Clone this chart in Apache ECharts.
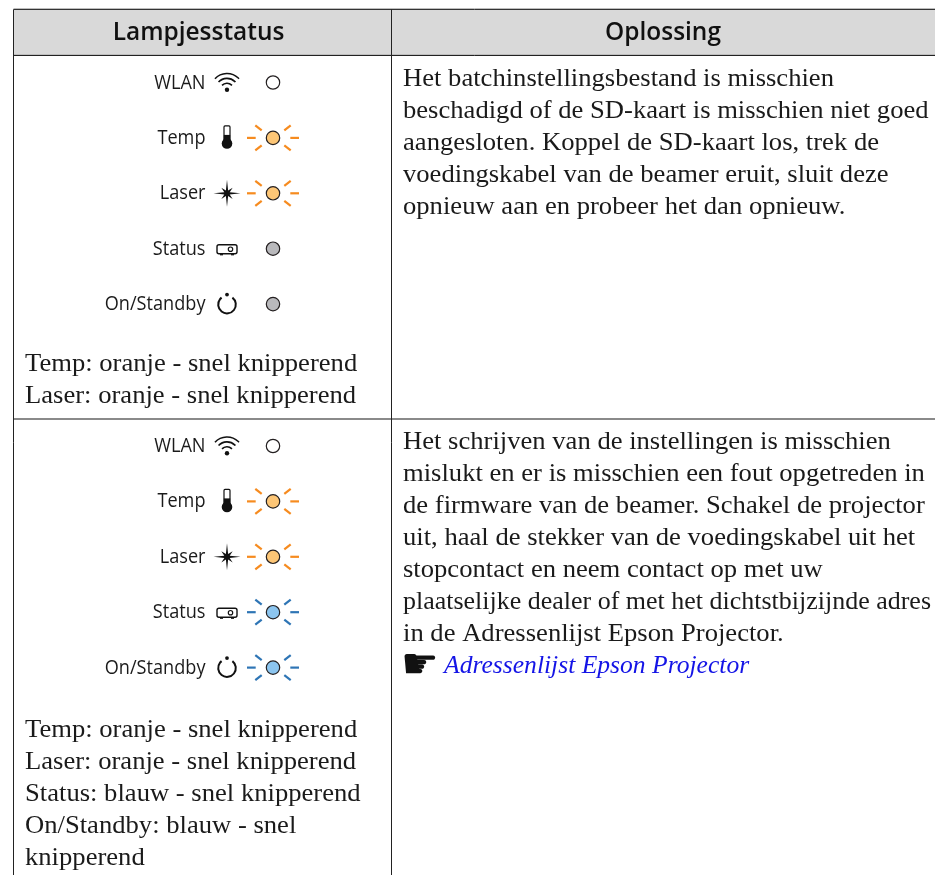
<!DOCTYPE html>
<html><head><meta charset="utf-8">
<style>html,body{margin:0;padding:0;background:#fff}#c{width:935px;height:875px}</style>
<script src="https://cdn.jsdelivr.net/npm/echarts@6/dist/echarts.min.js"></script>
</head><body><div id="c"></div>
<script>
const headers = ['Lampjesstatus', 'Oplossing'];
const lampNames = ['WLAN', 'Temp', 'Laser', 'Status', 'On/Standby'];
const lampStatesRow1 = ['off', 'orange', 'orange', 'grey', 'grey'];
const lampStatesRow2 = ['off', 'orange', 'orange', 'blue', 'blue'];
const notesRow1 = ['Temp: oranje - snel knipperend', 'Laser: oranje - snel knipperend'];
const notesRow2 = ['Temp: oranje - snel knipperend', 'Laser: oranje - snel knipperend', 'Status: blauw - snel knipperend', 'On/Standby: blauw - snel', 'knipperend'];
const solutionRow1 = ['Het batchinstellingsbestand is misschien', 'beschadigd of de SD-kaart is misschien niet goed', 'aangesloten. Koppel de SD-kaart los, trek de', 'voedingskabel van de beamer eruit, sluit deze', 'opnieuw aan en probeer het dan opnieuw.'];
const solutionRow2 = ['Het schrijven van de instellingen is misschien', 'mislukt en er is misschien een fout opgetreden in', 'de firmware van de beamer. Schakel de projector', 'uit, haal de stekker van de voedingskabel uit het', 'stopcontact en neem contact op met uw', 'plaatselijke dealer of met het dichtstbijzijnde adres', 'in de Adressenlijst Epson Projector.'];
const linkText = 'Adressenlijst Epson Projector';
const pointer = '\u261B';

const W = 935, H = 875, TOP = 9.5, LEFT = 13.5, COL = 391.5, HEAD = 55.5, ROW = 419;
const SERIF = '"Liberation Serif", serif', SANS = '"Open Sans", sans-serif';
const INK = '#231f20';
const palette = {
  off: {fill: '#ffffff'},
  grey: {fill: '#b9b9bc'},
  orange: {fill: '#fdc676', ray: '#f68b1f'},
  blue: {fill: '#8cc5ef', ray: '#2e75b5'}
};
const SERIF_SIZE = 25.6, SERIF_SX = 1.04, SANS_SIZE = 19.5, SANS_SX = 0.93;
const TEXT_RIGHT = 931, TEXT_LEFT = 403;
const meter = document.createElement('canvas').getContext('2d');

function fitScale(text, font, sx, room) {
  meter.font = font;
  return Math.min(sx, room / meter.measureText(text).width);
}
function txt(x, y, text, o) {
  o = o || {};
  return {type: 'text', x, y, scaleX: o.sx || 1, originX: 0, style: {
    text, fill: o.fill || '#1a1a1a', font: o.font, align: o.align || 'left', verticalAlign: 'middle'
  }};
}
function line(x1, y1, x2, y2, stroke, w) {
  return {type: 'line', shape: {x1, y1, x2, y2}, style: {stroke, lineWidth: w, lineCap: 'butt'}};
}
function icon(name, cx, cy) {
  const k = [];
  const st = {stroke: '#111', fill: 'none', lineWidth: 1.4};
  if (name === 'WLAN') {
    [[16.5, 1.6], [11.6, 1.6], [6.8, 1.6]].forEach(a => k.push({type: 'arc', shape: {cx, cy: cy + 7.5, r: a[0], startAngle: -Math.PI * 0.76, endAngle: -Math.PI * 0.24}, style: {stroke: '#111', fill: 'none', lineWidth: a[1]}}));
    k.push({type: 'circle', shape: {cx, cy: cy + 7.2, r: 2.2}, style: {fill: '#111'}});
  } else if (name === 'Temp') {
    k.push({type: 'rect', shape: {x: cx - 3, y: cy - 12, width: 6, height: 15, r: 1}, style: {stroke: '#111', fill: '#fff', lineWidth: 1.2}});
    k.push({type: 'rect', shape: {x: cx - 3.2, y: cy - 3, width: 6.4, height: 8}, style: {fill: '#111'}});
    k.push({type: 'circle', shape: {cx, cy: cy + 5.5, r: 5.3}, style: {fill: '#111'}});
  } else if (name === 'Laser') {
    const p = [], n = 8;
    for (let i = 0; i < n * 2; i++) {
      const a = i * Math.PI / n;
      const cardinal = i % 4 === 0;
      const r = i % 2 ? 2.9 : (cardinal ? 13.5 : 8);
      p.push([cx + r * Math.cos(a), cy + r * Math.sin(a)]);
    }
    k.push({type: 'polygon', shape: {points: p}, style: {fill: '#111'}});
  } else if (name === 'Status') {
    k.push({type: 'rect', shape: {x: cx - 10, y: cy - 4, width: 20, height: 9, r: 2}, style: st});
    k.push({type: 'circle', shape: {cx: cx + 3.5, cy: cy + 0.5, r: 2.2}, style: {stroke: '#111', fill: 'none', lineWidth: 1.2}});
    k.push(line(cx - 7, cy + 6, cx - 4, cy + 6, '#111', 1.3));
    k.push(line(cx + 4, cy + 6, cx + 7, cy + 6, '#111', 1.3));
  } else {
    k.push({type: 'arc', shape: {cx, cy: cy + 0.5, r: 8.8, startAngle: -Math.PI * 0.29, endAngle: -Math.PI * 0.71, clockwise: true}, style: {stroke: '#111', fill: 'none', lineWidth: 2}});
    k.push({type: 'circle', shape: {cx, cy: cy - 9.5, r: 1.9}, style: {fill: '#111'}});
  }
  return {type: 'group', children: k};
}
function lamp(state, cx, cy) {
  const p = palette[state], k = [];
  if (p.ray) {
    [[-26, 0, -17.3, 0], [17.3, 0, 26, 0], [-17.7, -12.5, -11.3, -7.5], [17.7, -12.5, 11.3, -7.5], [-17.7, 12.5, -11.3, 7.5], [17.7, 12.5, 11.3, 7.5]]
      .forEach(s => k.push(line(cx + s[0], cy + s[1], cx + s[2], cy + s[3], p.ray, 2.2)));
  }
  k.push({type: 'circle', shape: {cx, cy, r: 6.7}, style: {fill: p.fill, stroke: INK, lineWidth: 1.2}});
  return {type: 'group', children: k};
}
function panel(states, lampY0, noteLines, noteY0, solLines, solY0) {
  const k = [];
  const pitch = 55.4;
  const font = SERIF_SIZE + 'px ' + SERIF;
  lampNames.forEach((n, i) => {
    const y = lampY0 + i * pitch;
    k.push(txt(205.5, y + 0.5, n, {font: SANS_SIZE + 'px ' + SANS, align: 'right', sx: SANS_SX}));
    k.push(icon(n, 227, y));
    k.push(lamp(states[i], 273, y));
  });
  noteLines.forEach((t, i) => k.push(txt(25, noteY0 + i * 32, t, {font, sx: SERIF_SX})));
  solLines.forEach((t, i) => k.push(txt(TEXT_LEFT, solY0 + i * 31.95, t, {font, sx: fitScale(t, font, SERIF_SX, TEXT_RIGHT - TEXT_LEFT)})));
  return k;
}

const chart = echarts.init(document.getElementById('c'), null, {renderer: 'canvas'});
chart.setOption({
  animation: false,
  backgroundColor: '#fff',
  grid: {left: 0, right: 0, top: 0, bottom: 0},
  xAxis: {type: 'value', min: 0, max: W, show: false},
  yAxis: {type: 'value', min: 0, max: H, inverse: true, show: false},
  series: [{
    type: 'custom', coordinateSystem: 'cartesian2d', silent: true, clip: false,
    data: [[0, 0]],
    renderItem: function (params, api) {
      const kids = [];
      kids.push({type: 'rect', shape: {x: LEFT, y: TOP, width: W - LEFT, height: HEAD - TOP}, style: {fill: '#d9d9d9'}});
      kids.push(line(LEFT, TOP - 1, W, TOP - 1, '#bdbdbd', 1));
      kids.push(line(LEFT, TOP, W, TOP, '#333', 1));
      kids.push(line(LEFT, HEAD - 1, W, HEAD - 1, '#bdbdbd', 1));
      kids.push(line(LEFT, HEAD, W, HEAD, '#222', 1));
      kids.push(line(LEFT, ROW, W, ROW, '#8a8a8a', 2));
      kids.push(line(LEFT, TOP, LEFT, H, '#222', 1));
      kids.push(line(COL, TOP, COL, H, '#222', 1));
      kids.push(txt(198.5, 32.5, headers[0], {font: '600 26px ' + SANS, align: 'center', fill: '#111', sx: 0.94}));
      kids.push(txt(663, 32.5, headers[1], {font: '600 26px ' + SANS, align: 'center', fill: '#111', sx: 0.94}));
      kids.push(...panel(lampStatesRow1, 82.5, notesRow1, 364, solutionRow1, 79.5));
      kids.push(...panel(lampStatesRow2, 446, notesRow2, 730, solutionRow2, 442.5));
      kids.push(txt(401, 667, pointer, {font: 'bold 42px "DejaVu Sans"', fill: '#111'}));
      kids.push(txt(444, 666.5, linkText, {font: 'italic ' + SERIF_SIZE + 'px ' + SERIF, fill: '#1414e6', sx: 1}));
      return {type: 'group', children: kids};
    }
  }]
});
</script></body></html>
